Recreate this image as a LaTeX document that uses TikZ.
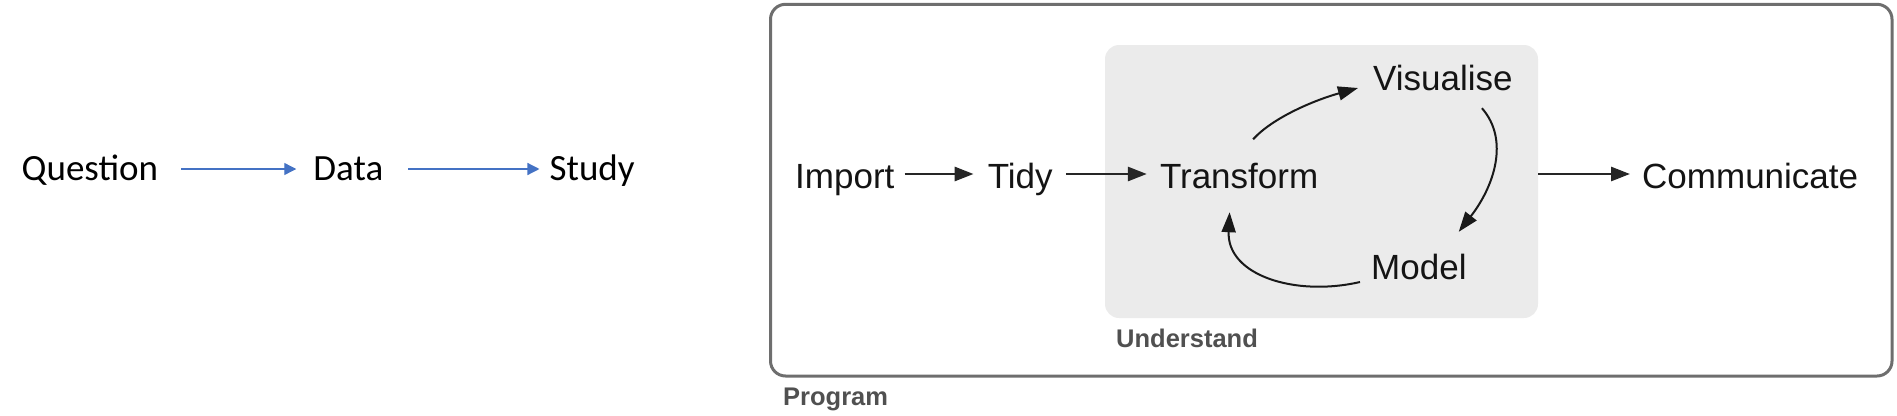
\documentclass[tikz,border=0pt]{standalone}
\usepackage{fontspec}
\setmainfont{Liberation Sans}
\newfontfamily\officefont{Carlito}
\usepackage{tikz}
\usetikzlibrary{arrows.meta, positioning, calc}
\definecolor{office-blue}{RGB}{68,114,196}
\definecolor{panel-gray}{RGB}{235,235,235}
\definecolor{frame-gray}{RGB}{110,110,110}
\definecolor{tag-gray}{RGB}{80,80,80}

\begin{document}
\begin{tikzpicture}[
    x=1pt, y=-1pt,
    office/.style={inner sep=0pt, text height=25pt, text depth=3pt, font=\officefont\fontsize{37pt}{44pt}\selectfont},
    stage/.style={inner sep=0pt, text height=31.5pt, text depth=3.5pt, text=black!92, font=\fontsize{35pt}{42pt}\selectfont},
    tag/.style={inner sep=0pt, anchor=base west, text=tag-gray, font=\bfseries\fontsize{25.5pt}{30pt}\selectfont},
    frame/.style={draw=frame-gray, line width=3pt, rounded corners=15pt, anchor=north west, inner sep=0pt, outer sep=0pt},
    panel/.style={fill=panel-gray, rounded corners=14pt, anchor=north west, inner sep=0pt, outer sep=0pt},
    blue arrow/.style={-{Triangle[length=12pt,width=12pt]}, draw=office-blue, fill=office-blue, line width=1.3pt},
    arrow/.style={-{Triangle[length=19pt,width=14pt]}, line width=2.8pt, draw=black!85},
    bend arrow/.style={-{Triangle[length=20pt,width=14pt]}, line width=2pt, draw=black!90}
]
\useasboundingbox (0,0) rectangle (1897,415);

% plain sequence
\node[office, anchor=base west] (question) at (21.5,180) {Question};
\node[office, right=155pt of question] (data) {Data};
\node[office, right=166pt of data] (study) {Study};

\draw[blue arrow, shorten <=23pt, shorten >=17pt] (question) -- (data);
\draw[blue arrow, shorten <=25pt, shorten >=10pt] (data) -- (study);

% data science workflow
\node[frame, minimum width=1121.5pt, minimum height=371.7pt] (program) at (770.5,4.3) {};
\node[panel, minimum width=433pt, minimum height=273pt] (understand) at (1105,45) {};
\node[tag] (program label) at ([shift={(12.5,29)}]program.south west) {Program};
\node[tag] (understand label) at ([shift={(11,29)}]understand.south west) {Understand};

\node[stage, anchor=base west] (import) at (795,188) {Import};
\node[stage, right=93pt of import] (tidy) {Tidy};
\node[stage, right=107pt of tidy] (transform) {Transform};
\node[stage, anchor=base west] (visualise) at (1373,90) {Visualise};
\node[stage, anchor=base west] (model) at (1371,279) {Model};
\node[stage, anchor=base west] (communicate) at (1642,188) {Communicate};

\draw[arrow, shorten <=10pt, shorten >=14pt] (import) -- (tidy);
\draw[arrow, shorten <=13pt, shorten >=13pt] (tidy) -- (transform);
\draw[arrow, shorten >=12pt] (understand.east |- communicate) -- (communicate);

% the understand cycle
\draw[bend arrow] ([shift={(14,-17)}]transform.north) .. controls +(20,-22) and +(-43,12) .. ([shift={(-15,12)}]visualise.west);
\draw[bend arrow] ([shift={(39,14.5)}]visualise.south) .. controls +(28,32) and +(35,-45) .. ([shift={(-8,-15.5)}]model.north east);
\draw[bend arrow] ([shift={(-11,17)}]model.west) .. controls +(-65,15) and +(-3,63) .. ([shift={(-9.5,20.5)}]transform.south);

\end{tikzpicture}
\end{document}
